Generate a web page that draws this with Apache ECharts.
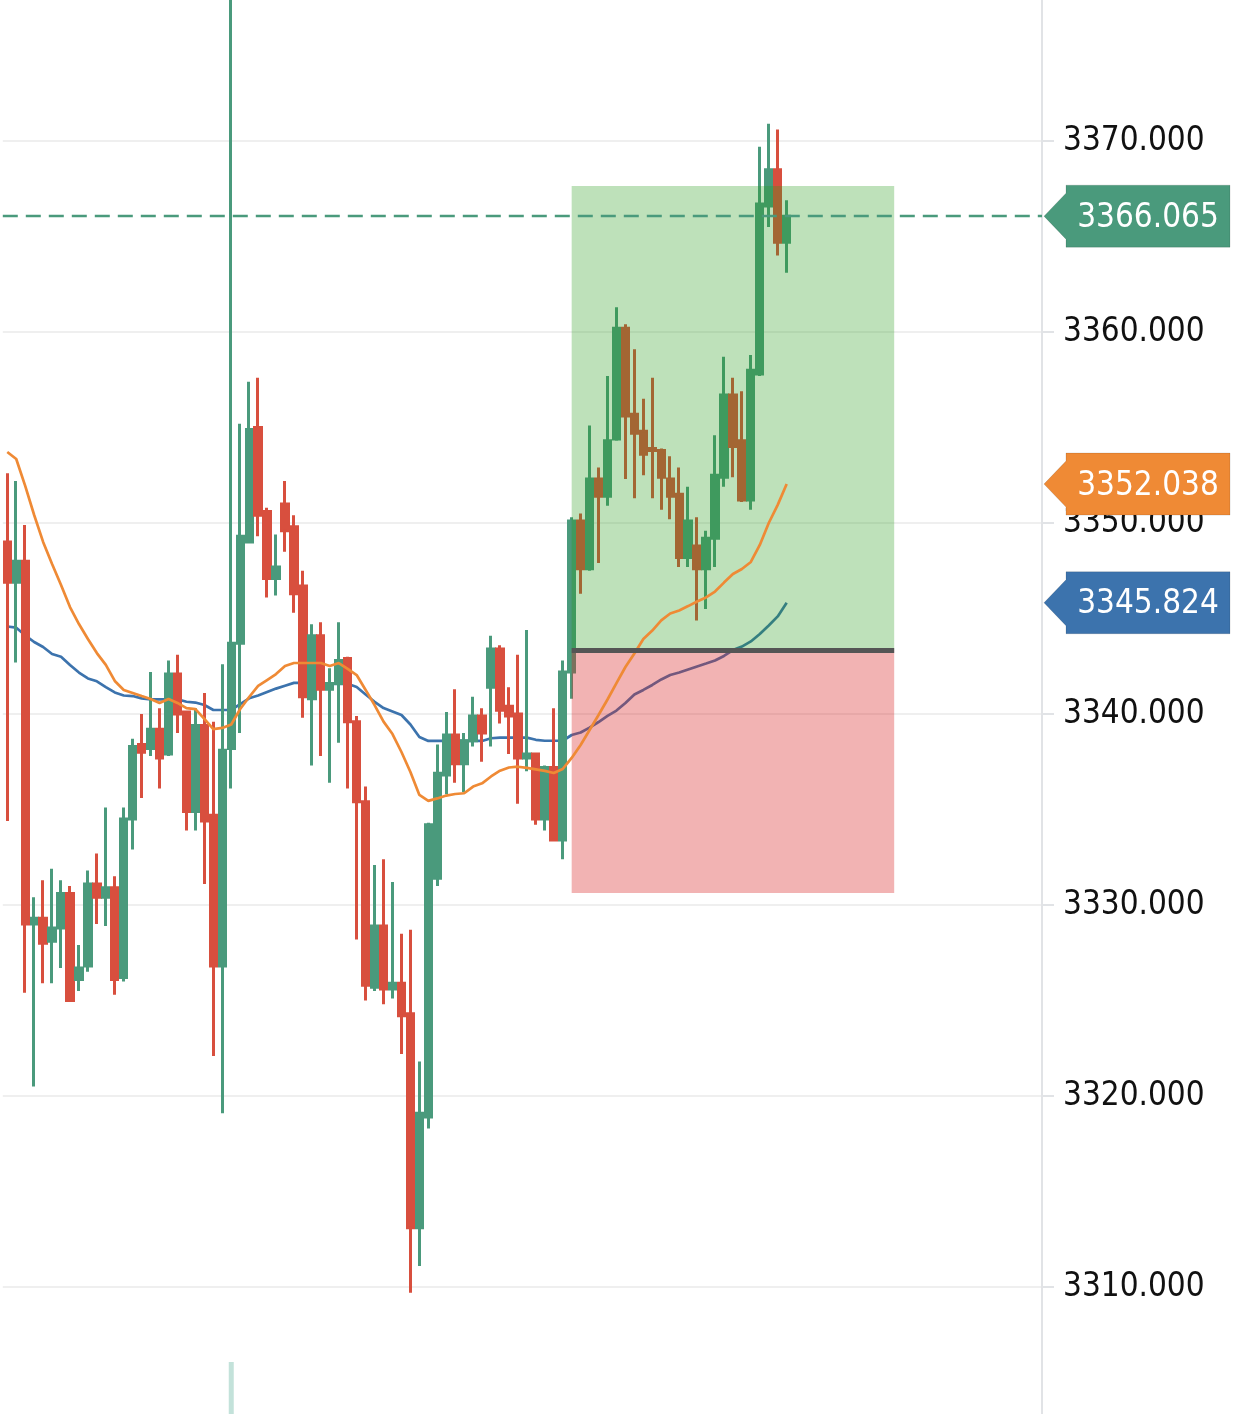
<!DOCTYPE html>
<html>
<head>
<meta charset="utf-8">
<script src="https://cdn.jsdelivr.net/npm/echarts@6/dist/echarts.min.js"></script>
<style>
html,body{margin:0;padding:0;background:#fff;}
#chart{width:1242px;height:1414px;}
</style>
</head>
<body>
<div id="chart"></div>
<script>
// ---- data ----
const slotCount = 116;
const categories = Array.from({length: slotCount}, (_, i) => 'c' + i);

const opens = [3349.0,3346.9,3348.0,3329.0,3329.3,3328.1,3328.8,3330.6,3326.1,3326.8,
  3331.1,3330.4,3330.9,3326.2,3334.5,3338.4,3338.2,3339.2,3337.9,3342.1,
  3340.1,3334.9,3339.4,3334.7,3326.8,3338.2,3343.7,3349.0,3355.0,3350.6,
  3347.1,3351.0,3349.8,3346.7,3340.8,3344.1,3341.3,3341.6,3342.9,3339.6,
  3335.4,3325.7,3328.9,3325.6,3325.9,3324.3,3313.1,3318.9,3331.4,3336.8,
  3338.9,3337.4,3338.6,3339.9,3341.4,3343.4,3340.4,3340.0,3337.7,3337.9,
  3334.5,3337.2,3333.4,3342.2,3350.1,3347.6,3352.3,3351.4,3354.4,3360.2,
  3355.7,3354.8,3353.9,3353.8,3352.3,3351.5,3348.2,3348.8,3347.6,3349.2,
  3352.4,3356.7,3354.3,3351.2,3357.8,3366.6,3368.5,3364.7];
const closes = [3346.9,3348.0,3329.0,3329.3,3328.0,3328.8,3330.6,3325.0,3326.7,3331.1,
  3330.4,3330.9,3326.1,3334.5,3338.3,3338.0,3339.2,3337.7,3342.1,3340.0,
  3334.9,3339.4,3334.4,3326.8,3338.1,3343.7,3349.3,3354.9,3350.4,3347.1,
  3347.7,3349.6,3346.3,3340.9,3344.1,3341.3,3341.6,3342.8,3339.6,3335.4,
  3325.8,3328.9,3325.6,3325.9,3324.2,3313.1,3319.1,3334.2,3336.9,3338.9,
  3337.4,3338.6,3339.9,3339.0,3343.4,3340.2,3339.9,3337.7,3337.9,3334.5,
  3337.2,3333.4,3342.2,3350.1,3347.6,3352.3,3351.4,3354.3,3360.2,3355.6,
  3354.7,3353.6,3353.8,3352.4,3351.4,3348.2,3350.1,3347.6,3349.2,3352.5,
  3356.7,3354.0,3351.2,3358.0,3366.7,3368.5,3364.7,3366.065];
const lows = [3334.4,3342.7,3325.4,3320.5,3325.9,3325.9,3326.7,3325.0,3325.5,3326.5,
  3329.0,3328.9,3325.3,3326.0,3332.9,3335.6,3337.8,3336.1,3337.8,3339.0,
  3333.9,3333.9,3331.1,3322.1,3319.1,3336.1,3339.0,3349.0,3349.3,3346.1,
  3346.2,3348.5,3345.3,3339.8,3337.3,3337.8,3336.4,3338.5,3336.1,3328.2,
  3325.0,3325.5,3324.8,3325.1,3322.2,3309.7,3311.1,3318.3,3331.0,3335.8,
  3336.4,3335.9,3338.3,3337.5,3338.3,3339.5,3337.9,3335.3,3337.0,3334.2,
  3333.9,3333.4,3332.4,3340.8,3346.3,3347.5,3347.9,3350.9,3354.3,3352.3,
  3351.3,3352.5,3351.3,3350.7,3350.2,3347.7,3347.7,3344.9,3345.5,3347.7,
  3351.9,3352.4,3351.1,3350.7,3357.7,3365.5,3364.0,3363.1];
const highs = [3352.6,3352.2,3349.9,3330.4,3331.3,3331.9,3331.3,3331.0,3327.9,3331.8,
  3332.7,3335.1,3331.5,3335.1,3338.7,3340.0,3342.2,3340.3,3342.8,3343.1,
  3340.1,3340.3,3341.1,3339.6,3342.6,3400.0,3355.2,3357.4,3357.6,3350.8,
  3349.4,3352.2,3350.4,3347.5,3344.7,3344.8,3342.4,3344.8,3343.0,3339.9,
  3336.2,3332.1,3332.4,3331.2,3328.5,3328.7,3321.8,3334.3,3338.4,3340.1,
  3341.3,3339.0,3340.9,3340.3,3344.1,3343.6,3341.4,3343.1,3344.4,3337.9,
  3337.3,3340.3,3342.8,3350.3,3350.5,3355.1,3352.9,3357.7,3361.3,3360.4,
  3359.1,3356.5,3357.6,3353.9,3353.5,3352.9,3351.9,3350.3,3349.6,3354.6,
  3358.7,3357.6,3356.9,3358.8,3369.7,3370.9,3370.6,3366.9];

const maFast = [3353.72,3353.35,3351.94,3350.42,3349.01,3347.85,3346.75,3345.60,3344.71,3343.93,
  3343.19,3342.57,3341.73,3341.26,3341.10,3340.94,3340.79,3340.58,3340.79,3340.58,
  3340.31,3340.26,3339.74,3339.21,3339.27,3339.45,3340.26,3340.89,3341.47,3341.78,
  3342.09,3342.51,3342.67,3342.67,3342.67,3342.67,3342.51,3342.67,3342.36,3342.04,
  3341.26,3340.47,3339.60,3338.95,3338.01,3336.96,3335.76,3335.45,3335.58,3335.73,
  3335.81,3335.85,3336.20,3336.37,3336.73,3337.03,3337.20,3337.24,3337.18,3337.10,
  3337.02,3336.91,3337.12,3337.70,3338.38,3339.16,3339.95,3340.76,3341.62,3342.46,
  3343.17,3343.93,3344.37,3344.90,3345.26,3345.42,3345.65,3345.89,3346.10,3346.41,
  3346.88,3347.33,3347.59,3347.96,3348.85,3350.00,3350.95,3352.038];
const maSlow = [3344.58,3344.52,3344.12,3343.77,3343.51,3343.14,3343.00,3342.57,3342.17,3341.86,
  3341.71,3341.41,3341.13,3340.97,3340.94,3340.82,3340.77,3340.77,3340.77,3340.77,
  3340.64,3340.60,3340.47,3340.21,3340.21,3340.21,3340.52,3340.82,3340.97,3341.15,
  3341.33,3341.48,3341.63,3341.63,3341.58,3341.58,3341.58,3341.58,3341.58,3341.41,
  3341.02,3340.64,3340.31,3340.13,3339.95,3339.45,3338.80,3338.59,3338.59,3338.59,
  3338.59,3338.59,3338.59,3338.59,3338.73,3338.76,3338.76,3338.76,3338.76,3338.65,
  3338.60,3338.60,3338.60,3338.90,3339.03,3339.29,3339.58,3339.90,3340.18,3340.58,
  3341.02,3341.26,3341.52,3341.81,3342.04,3342.17,3342.33,3342.49,3342.64,3342.80,
  3343.04,3343.35,3343.53,3343.80,3344.19,3344.63,3345.11,3345.824];

// bottom marker bar (one light bar under the spike candle)
const markerBars = categories.map((c, i) => i === 25 ? 1 : '-');

// position tool (long): entry, target, stop, start/end slot
const posEntry = 3343.35;
const posTarget = 3367.64;
const posStop = 3330.63;
const posStart = 'c63';
const posEnd = 'c99';

const yTicks = {min: 3300, max: 3380, step: 10};

// ---- styles ----
const UP = '#4a9a7c', DOWN = '#d84f3e';
const ORANGE = '#ef8a35', BLUE = '#3c73ad';
const FONT = '"DejaVu Sans Condensed", "DejaVu Sans", sans-serif';
const GRID_LEFT = 2.8, GRID_RIGHT = 200;

const candleData = opens.map((o, i) => [o, closes[i], lows[i], highs[i]]);
const lastClose = closes[closes.length - 1];
const lastFast = maFast[maFast.length - 1];
const lastSlow = maSlow[maSlow.length - 1];

const chart = echarts.init(document.getElementById('chart'), null, {renderer: 'canvas'});

const option = {
  animation: false,
  backgroundColor: '#ffffff',
  grid: [
    {left: GRID_LEFT, right: GRID_RIGHT, top: -50, bottom: -64, containLabel: false, outerBoundsMode: 'none'},
    {left: GRID_LEFT, right: GRID_RIGHT, top: 1362, height: 52, outerBoundsMode: 'none'}
  ],
  xAxis: [
    {type: 'category', data: categories, boundaryGap: true, show: false, gridIndex: 0},
    {type: 'category', data: categories, boundaryGap: true, show: false, gridIndex: 1}
  ],
  yAxis: [
    {
      type: 'value', position: 'right', gridIndex: 0,
      min: yTicks.min, max: yTicks.max, interval: yTicks.step, scale: true,
      axisLine: {show: true, lineStyle: {color: '#e1e3e6', width: 2}},
      axisTick: {show: true, length: 12, lineStyle: {color: '#e1e3e6', width: 2}},
      splitLine: {show: true, lineStyle: {color: '#efefef', width: 2}},
      axisLabel: {
        show: true, margin: 21, color: '#111111', fontSize: 33,
        fontFamily: FONT, padding: [6, 0, 0, 0], formatter: v => v.toFixed(3)
      }
    },
    {type: 'value', gridIndex: 1, min: 0, max: 1, show: false}
  ],
  series: [
    {
      name: 'K', type: 'candlestick', data: candleData, z: 2,
      barWidth: '76%', clip: true,
      itemStyle: {color: UP, color0: DOWN, borderColor: UP, borderColor0: DOWN, borderWidth: 3},
      markLine: {
        silent: true, symbol: ['none', 'none'], z: 6,
        label: {show: false},
        lineStyle: {color: UP, width: 2.4, type: [15, 8]},
        data: [{yAxis: lastClose}]
      }
    },
    {
      name: 'MA slow', type: 'line', data: maSlow, z: 2, showSymbol: false, symbol: 'none',
      lineStyle: {color: BLUE, width: 2.7}, smooth: false
    },
    {
      name: 'Position', type: 'line', data: [], z: 3,
      markArea: {
        silent: true, z: 3,
        data: [
          [{xAxis: posStart, yAxis: posTarget, itemStyle: {color: 'rgba(40,155,25,0.3)'}},
           {xAxis: posEnd, yAxis: posEntry}],
          [{xAxis: posStart, yAxis: posEntry, itemStyle: {color: 'rgba(218,37,37,0.35)'}},
           {xAxis: posEnd, yAxis: posStop}]
        ]
      }
    },
    {
      name: 'MA fast', type: 'line', data: maFast, z: 4, showSymbol: false, symbol: 'none',
      lineStyle: {color: ORANGE, width: 2.7}, smooth: false
    },
    {
      name: 'Entry', type: 'line', data: [], z: 5,
      markLine: {
        silent: true, symbol: ['none', 'none'], z: 5,
        label: {show: false},
        lineStyle: {color: '#555555', width: 5, type: 'solid'},
        data: [[{coord: [posStart, posEntry]}, {coord: [posEnd, posEntry]}]]
      }
    },
    {
      name: 'Marker', type: 'bar', xAxisIndex: 1, yAxisIndex: 1, data: markerBars,
      barWidth: 5, itemStyle: {color: '#c3e2da'}, silent: true
    }
  ]
};
chart.setOption(option);

// price tags on the axis, placed through the y scale
const axisX = chart.getWidth() - GRID_RIGHT;
function tag(value, color) {
  const y = chart.convertToPixel({yAxisIndex: 0}, value);
  const bx = axisX + 24, bw = 164, bh = 31, ah = 23;
  return {
    type: 'group', z: 100,
    children: [
      {type: 'polygon', z: 100,
       shape: {points: [[axisX + 2, y], [bx, y - ah], [bx, y - bh], [bx + bw, y - bh], [bx + bw, y + bh], [bx, y + bh], [bx, y + ah]]},
       style: {fill: color, stroke: 'rgba(0,0,0,0.12)', lineWidth: 1}},
      {type: 'text', z: 101,
       style: {x: bx + bw / 2, y: y + 2, text: value.toFixed(3), fill: '#ffffff', font: '33px ' + FONT,
               textAlign: 'center', textVerticalAlign: 'middle', align: 'center', verticalAlign: 'middle'}}
    ]
  };
}
chart.setOption({graphic: [tag(lastClose, UP), tag(lastFast, ORANGE), tag(lastSlow, BLUE)]});
</script>
</body>
</html>
